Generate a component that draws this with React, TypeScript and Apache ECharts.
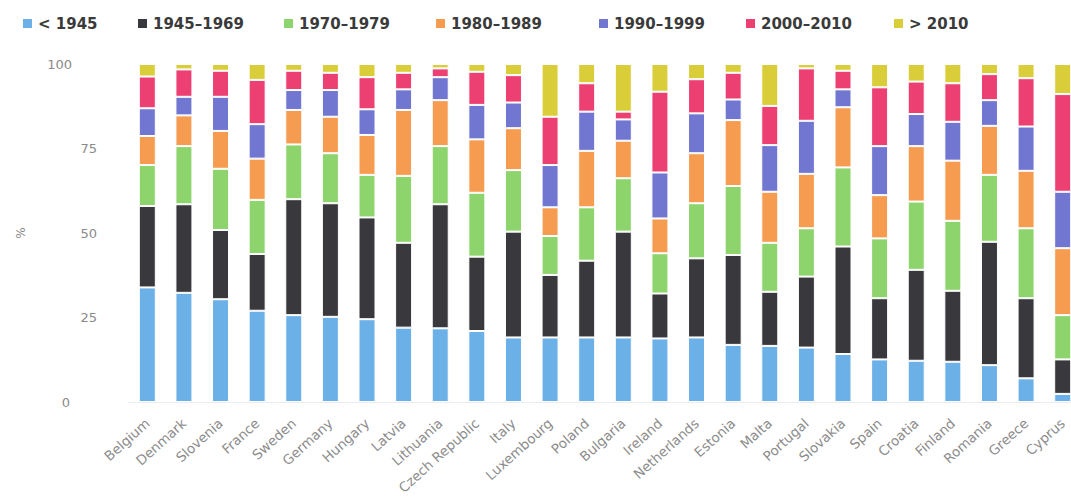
import React, { useEffect, useRef } from "react";
import * as echarts from "echarts";

const categories = [
  "Belgium", "Denmark", "Slovenia", "France", "Sweden", "Germany", "Hungary",
  "Latvia", "Lithuania", "Czech Republic", "Italy", "Luxembourg", "Poland",
  "Bulgaria", "Ireland", "Netherlands", "Estonia", "Malta", "Portugal",
  "Slovakia", "Spain", "Croatia", "Finland", "Romania", "Greece", "Cyprus",
];

const periodNames = ["< 1945", "1945–1969", "1970–1979", "1980–1989", "1990–1999", "2000–2010", "> 2010"];

const before1945 = [33.9, 32.3, 30.4, 27.0, 25.7, 25.2, 24.5, 22.0, 21.8, 21.0, 19.1, 19.1, 19.1, 19.1, 18.8, 19.1, 16.9, 16.6, 16.1, 14.2, 12.6, 12.2, 11.9, 10.9, 7.0, 2.4];
const p1945to1969 = [24.1, 26.2, 20.5, 16.8, 34.3, 33.6, 30.1, 25.1, 36.7, 22.0, 31.3, 18.5, 22.7, 31.3, 13.3, 23.4, 26.6, 16.0, 21.0, 31.8, 18.1, 26.9, 21.0, 36.5, 23.7, 10.2];
const p1970to1979 = [12.1, 17.2, 18.1, 16.0, 16.2, 14.8, 12.6, 19.8, 17.2, 18.9, 18.2, 11.5, 15.8, 15.8, 11.9, 16.3, 20.4, 14.5, 14.3, 23.4, 17.7, 20.2, 20.7, 19.8, 20.7, 13.1];
const p1980to1989 = [8.6, 9.1, 11.2, 12.2, 10.2, 10.8, 11.8, 19.5, 13.6, 15.8, 12.4, 8.5, 16.7, 11.1, 10.3, 14.8, 19.5, 15.1, 16.1, 17.8, 12.8, 16.4, 17.8, 14.5, 17.0, 19.8];
const p1990to1999 = [8.2, 5.5, 10.1, 10.2, 5.9, 7.9, 7.6, 6.1, 6.8, 10.2, 7.6, 12.5, 11.6, 6.3, 13.6, 11.8, 6.1, 13.8, 15.7, 5.3, 14.5, 9.5, 11.5, 7.6, 13.1, 16.7];
const p2000to2010 = [9.4, 8.1, 7.7, 13.1, 5.7, 5.1, 9.5, 4.9, 2.6, 9.8, 8.1, 14.3, 8.4, 2.3, 23.9, 10.1, 7.9, 11.6, 15.5, 5.5, 17.4, 9.6, 11.4, 7.7, 14.3, 28.9];
const after2010 = [3.7, 1.6, 2.0, 4.7, 2.0, 2.6, 3.9, 2.6, 1.3, 2.3, 3.3, 15.6, 5.7, 14.1, 8.2, 4.5, 2.6, 12.4, 1.3, 2.0, 6.9, 5.2, 5.7, 3.0, 4.2, 8.9];

const seriesValues = [before1945, p1945to1969, p1970to1979, p1980to1989, p1990to1999, p2000to2010, after2010];
const colors = ["#6cb0e8", "#38383d", "#8dd46c", "#f59c50", "#7176d0", "#ec3f72", "#dacd3a"];
const legendLefts = [16, 131, 277, 429, 592, 739, 887];

export default function App() {
  const ref = useRef<HTMLDivElement>(null);

  useEffect(() => {
    if (!ref.current) return;
    const chart = echarts.init(ref.current, null, { renderer: "svg" });

    const legends = periodNames.map((name, i) => ({
      data: [name],
      left: legendLefts[i],
      top: 11,
      icon: "rect",
      itemWidth: 11,
      itemHeight: 11,
      textStyle: {
        fontFamily: "DejaVu Sans",
        fontWeight: "bold",
        fontSize: 15,
        color: "#3a3a3a",
      },
    }));

    chart.setOption({
      animation: false,
      color: colors,
      legend: legends,
      grid: { left: 129, top: 64, bottom: 97, width: 952 },
      xAxis: {
        type: "category",
        data: categories,
        axisTick: { show: false },
        axisLine: { lineStyle: { color: "#ececf0" } },
        axisLabel: {
          rotate: 42,
          interval: 0,
          margin: 19,
          fontFamily: "DejaVu Sans",
          fontSize: 13.5,
          color: "#8c8c8c",
        },
      },
      yAxis: {
        type: "value",
        min: 0,
        max: 100,
        interval: 25,
        name: "%",
        nameLocation: "middle",
        nameRotate: 90,
        nameGap: 102,
        nameTextStyle: { fontFamily: "DejaVu Sans", fontSize: 12, color: "#888" },
        axisLine: { show: false },
        axisTick: { show: false },
        splitLine: { show: false },
        axisLabel: {
          margin: 32,
          fontFamily: "DejaVu Sans",
          fontSize: 13,
          color: "#8a8a8a",
          formatter: (v: number) => (v === 100 ? `{a|${v}}` : v === 0 ? `{b|${v}}` : `${v}`),
          rich: {
            a: { padding: [0, 25, 0, 0], fontFamily: "DejaVu Sans", fontSize: 13, color: "#8a8a8a" },
            b: { padding: [0, 27, 0, 0], fontFamily: "DejaVu Sans", fontSize: 13, color: "#8a8a8a" },
          },
        },
      },
      series: periodNames.map((name, i) => ({
        name,
        type: "bar",
        stack: "total",
        barWidth: 17,
        data: seriesValues[i],
        itemStyle: { color: colors[i], borderColor: "#ffffff", borderWidth: 1 },
      })),
    });

    return () => chart.dispose();
  }, []);

  return (
    <div style={{ position: "absolute", left: 0, top: 0, width: 1071, height: 499, overflow: "hidden" }}>
      <div ref={ref} style={{ width: 1090, height: 499 }} />
    </div>
  );
}
